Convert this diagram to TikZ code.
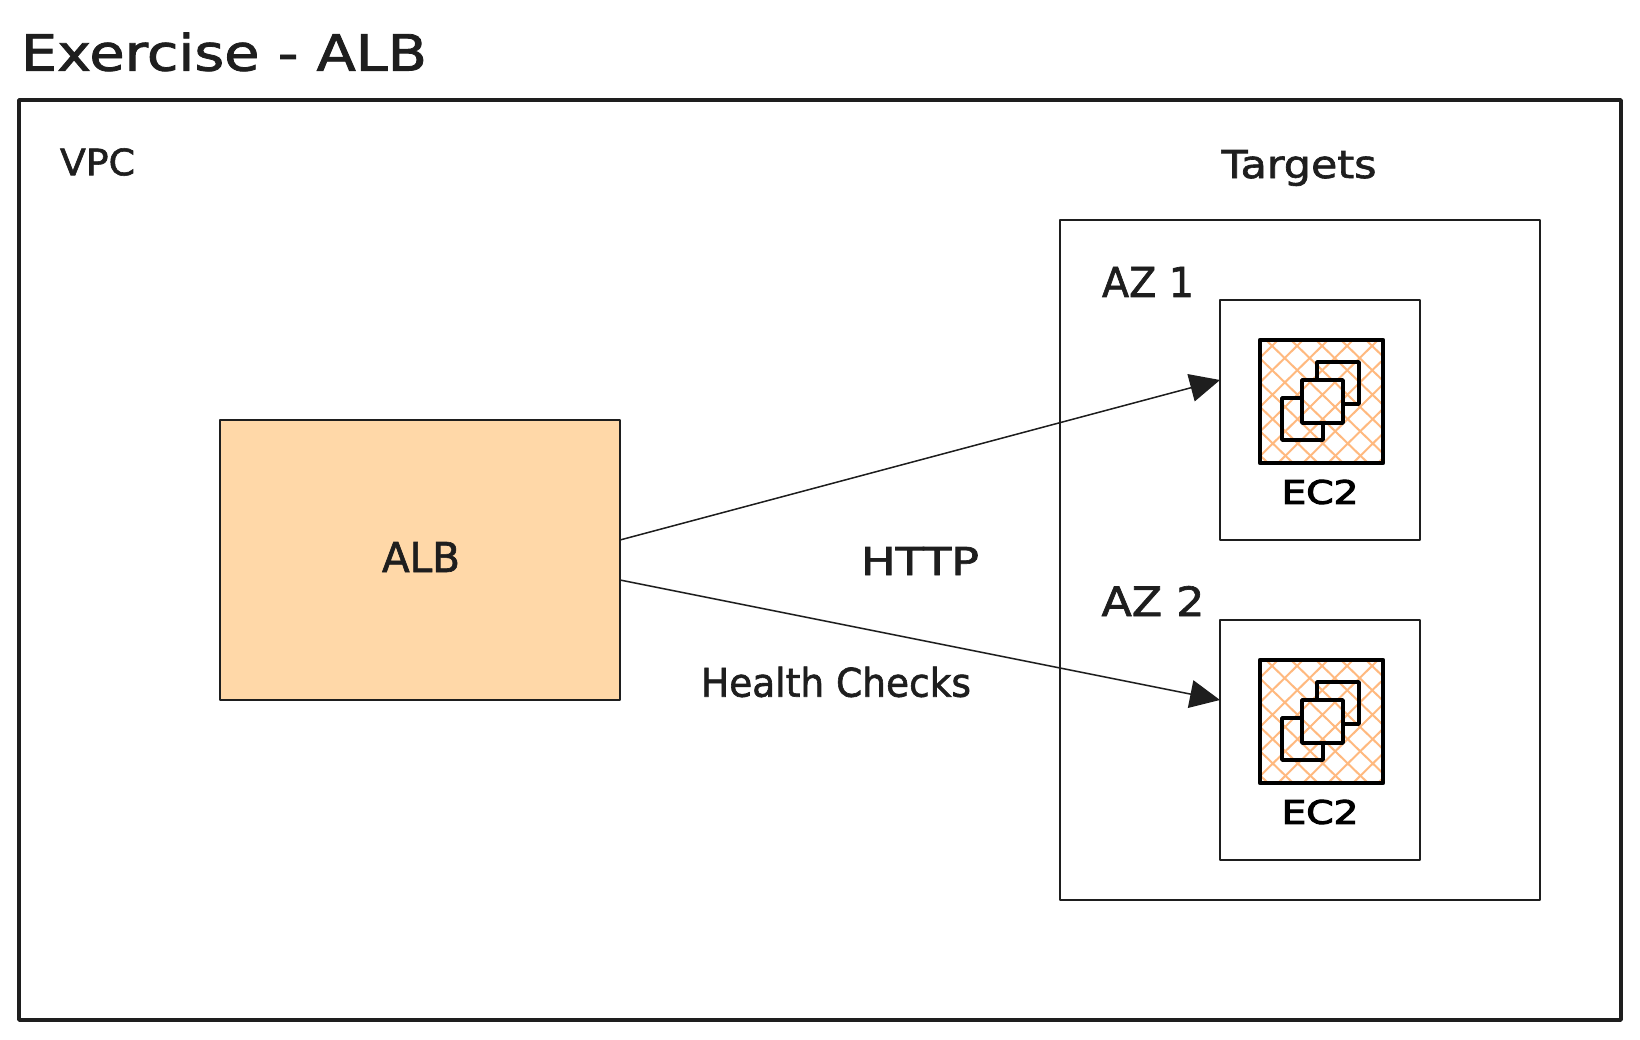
\documentclass[tikz,border=0pt]{standalone}
\usepackage{fontspec}
\usepackage{graphicx}
\setmainfont{DejaVu Sans}[FakeBold=1.6]
\newfontfamily\ecfont{DejaVu Sans}[FakeBold=3]
\usetikzlibrary{arrows.meta,calc}
\definecolor{ink}{HTML}{1E1E1E}
\definecolor{albfill}{HTML}{FFD8A8}
\definecolor{hatchc}{HTML}{FFB97F}
\newcommand\fitbox[3]{\resizebox{#1pt}{#2pt}{\fontsize{36}{40}\selectfont #3}}
\tikzset{
  x=1pt,y=-1pt,
  panel/.style={draw=ink,line width=2pt,rectangle,inner sep=0pt,outer sep=0pt,line join=round},
  label/.style={text=ink,inner sep=0pt,outer sep=0pt},
  eclabel/.style={text=black,inner sep=0pt,outer sep=0pt,font=\ecfont},
  flow/.style={draw=ink,line width=1.5pt,-{Triangle[length=30pt,width=28pt,fill=ink]},shorten >=0pt},
  iconline/.style={draw=black,line width=3.6pt,line join=round,line cap=round},
  iconframe/.style={draw=black,line width=4.5pt,line join=round},
  hatchline/.style={draw=hatchc,line width=2pt},
}
\newcommand\ecicon[1]{%
\begin{scope}[shift={(0,#1)}]
  \begin{scope}
    \clip (1260,340) rectangle (1383,463);
    \foreach \k in {-6,...,6}{
      \draw[hatchline] ({1266+\k*25},340) -- ({1394+\k*25},464);
      \draw[hatchline] ({1378+\k*25},340) -- ({1252+\k*25},464);
    }
  \end{scope}
  \draw[iconframe] (1260,340) rectangle (1383,463);
  \draw[iconline] (1317,380) -- (1317,362) -- (1359,362) -- (1359,404) -- (1343,404);
  \draw[iconline] (1302,398) -- (1282,398) -- (1282,440) -- (1323,440) -- (1323,423);
  \draw[iconline] (1302,380) rectangle (1343,423);
\end{scope}}
\begin{document}
\begin{tikzpicture}
\useasboundingbox (0,0) rectangle (1640,1040);
\fill[white] (0,0) rectangle (1640,1040);
\node[panel,line width=3.5pt,minimum width=1602pt,minimum height=920pt] (vpc) at (820,560) {};
\node[panel,minimum width=480pt,minimum height=680pt] (targets) at (1300,560) {};
\node[panel,minimum width=200pt,minimum height=240pt] (az1) at (1320,420) {};
\node[panel,minimum width=200pt,minimum height=240pt] (az2) at (1320,740) {};
\node[panel,fill=albfill,minimum width=400pt,minimum height=280pt] (alb) at (420,560) {};
\ecicon{0}
\ecicon{320}
\node[label] (title) at (224,52) {\fitbox{406}{38}{Exercise - ALB}};
\node[label] (vpclabel) at (97.5,162) {\fitbox{75}{27}{VPC}};
\node[label] (tlabel) at (1299,168) {\fitbox{155}{28}{Targets}};
\node[label] (azlabela) at (1148,282) {\fitbox{92}{30}{AZ 1}};
\node[label] (azlabelb) at (1153,601) {\fitbox{103}{30}{AZ 2}};
\node[label] (alblabel) at (421,557) {\fitbox{78}{30}{ALB}};
\node[label] (http) at (920,561) {\fitbox{118}{28}{HTTP}};
\node[label] (health) at (836,682) {\fitbox{270}{30}{Health Checks}};
\node[eclabel] (eca) at (1320,492) {\fitbox{77}{24}{EC2}};
\node[eclabel] (ecb) at (1320,812) {\fitbox{77}{24}{EC2}};
\draw[flow] ([yshift=20pt]alb.east) -- ([yshift=40pt]az1.west);
\draw[flow] ([yshift=-20pt]alb.east) -- ([yshift=40pt]az2.west);
\end{tikzpicture}
\end{document}
